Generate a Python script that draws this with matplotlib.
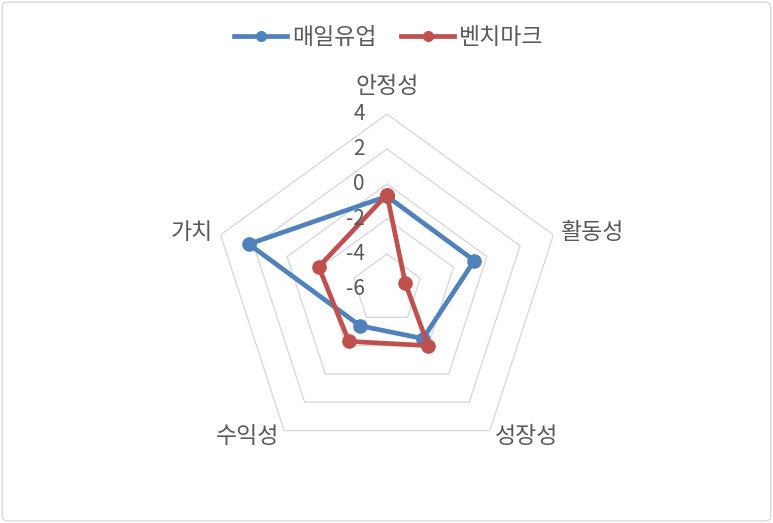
import numpy as np
import matplotlib.pyplot as plt
from matplotlib.patches import FancyBboxPatch
from matplotlib.lines import Line2D

plt.rcParams['font.family'] = ['Noto Sans CJK KR', 'DejaVu Sans']

categories = ['안정성', '활동성', '성장성', '수익성', '가치']
maeil = [-0.7, -0.75, -2.5, -3.4, 2.3]
bench = [-0.6, -4.9, -2.0, -2.3, -1.9]
series_names = ['매일유업', '벤치마크']
ticks = [-6, -4, -2, 0, 2, 4]

blue = '#4f81bd'
red = '#c0504d'
text_col = '#595959'
grid_col = '#d9d9d9'

fig = plt.figure(figsize=(7.73, 5.23), dpi=100)
ax = fig.add_axes([0.2742, 0.1128, 0.4528, 0.6692], projection='polar')
ax.set_theta_offset(np.pi / 2)
ax.set_theta_direction(-1)
ax.set_ylim(-6, 4)
ax.grid(False)
ax.spines['polar'].set_visible(False)
ax.set_xticks([])
ax.set_yticks([])
ax.patch.set_alpha(0)

n = len(categories)
angles = np.linspace(0, 2 * np.pi, n, endpoint=False)
closed = np.append(angles, angles[0])

# pentagon grid (no spokes)
for t in ticks[1:]:
    ax.plot(closed, [t] * (n + 1), color=grid_col, lw=1.0, zorder=1)

for vals, col in [(maeil, blue), (bench, red)]:
    v = np.append(vals, vals[0])
    ax.plot(closed, v, color=col, lw=3.4, marker='o', ms=9.5, zorder=3)

# radial tick labels
for t in ticks:
    ax.annotate(str(t), xy=(0, t), xytext=(-16, 0), textcoords='offset points',
                ha='right', va='center', fontsize=15, color=text_col)

# category labels
label_pos = [(0, 5.55, 'center', 'center'),
             (angles[1], 4.45, 'left', 'center'),
             (angles[2], 4.45, 'left', 'center'),
             (angles[3], 4.45, 'right', 'center'),
             (angles[4], 4.45, 'right', 'center')]
for (a, r, ha, va), name in zip(label_pos, categories):
    ax.text(a, r, name, ha=ha, va=va, fontsize=16.5, color=text_col)

handles = [Line2D([0], [0], color=blue, lw=3.4, marker='o', ms=7),
           Line2D([0], [0], color=red, lw=3.4, marker='o', ms=7)]
fig.legend(handles, series_names, loc='center', bbox_to_anchor=(0.503, 0.929),
           ncol=2, frameon=False, fontsize=16.5, labelcolor=text_col,
           handlelength=2.3, columnspacing=1.1, handletextpad=0.2)

border = FancyBboxPatch((0.003, 0.004), 0.994, 0.992, boxstyle='round,pad=0,rounding_size=0.008',
                        transform=fig.transFigure, fill=False, edgecolor=grid_col, lw=1.0)
fig.patches.append(border)

fig.savefig('out.png', dpi=100)
